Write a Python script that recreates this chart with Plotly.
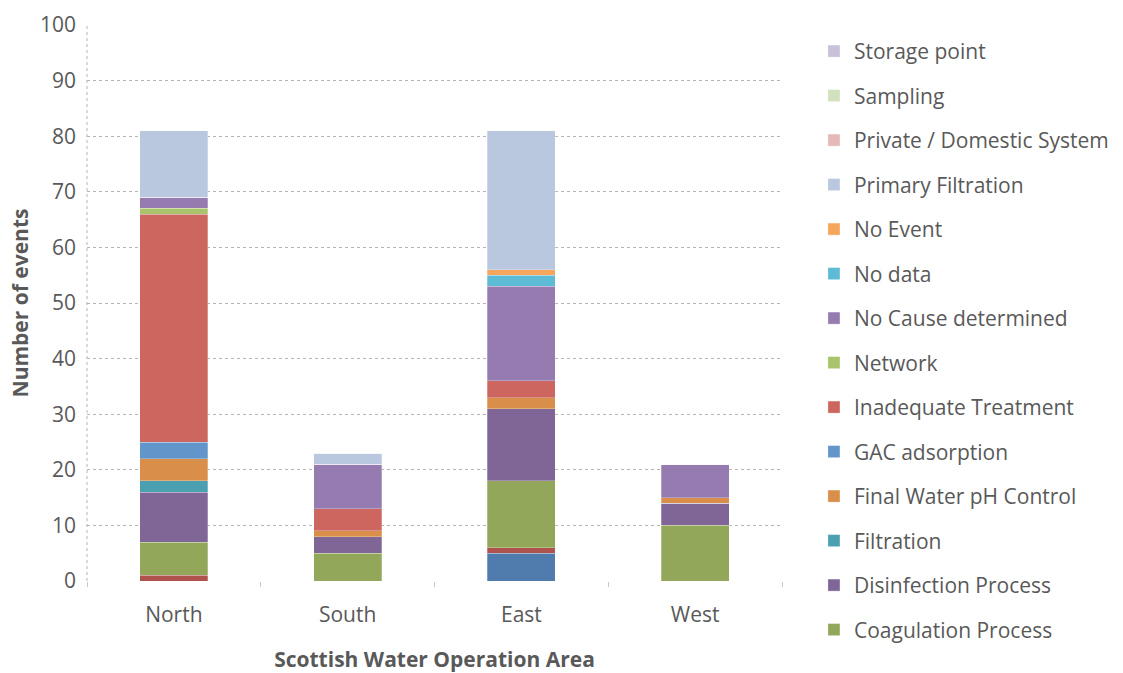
import plotly.graph_objects as go

areas = ["North", "South", "East", "West"]

# series, bottom of stack to top
unlisted_blue = [0, 0, 5, 0]
unlisted_red = [1, 0, 1, 0]
coagulation = [6, 5, 12, 10]
disinfection = [9, 3, 13, 4]
filtration = [2, 0, 0, 0]
final_ph = [4, 1, 2, 1]
gac = [3, 0, 0, 0]
inadequate = [41, 4, 3, 0]
network = [1, 0, 0, 0]
no_cause = [2, 8, 17, 6]
no_data = [0, 0, 2, 0]
no_event = [0, 0, 1, 0]
primary_filtration = [12, 2, 25, 0]
private_domestic = [0, 0, 0, 0]
sampling = [0, 0, 0, 0]
storage_point = [0, 0, 0, 0]

series = [
    ("Other (unlisted 1)", unlisted_blue, "#4f7cad", False),
    ("Other (unlisted 2)", unlisted_red, "#b0524e", False),
    ("Coagulation Process", coagulation, "#93a75a", True),
    ("Disinfection Process", disinfection, "#7f6697", True),
    ("Filtration", filtration, "#4a9fb1", True),
    ("Final Water pH Control", final_ph, "#d98f4a", True),
    ("GAC adsorption", gac, "#6295c9", True),
    ("Inadequate Treatment", inadequate, "#cd665f", True),
    ("Network", network, "#a9c46b", True),
    ("No Cause determined", no_cause, "#967bb0", True),
    ("No data", no_data, "#5dbbd5", True),
    ("No Event", no_event, "#f6a55d", True),
    ("Primary Filtration", primary_filtration, "#b9c8df", True),
    ("Private / Domestic System", private_domestic, "#e5b9b8", True),
    ("Sampling", sampling, "#d2e1bd", True),
    ("Storage point", storage_point, "#c9c1da", True),
]

FONT = "Open Sans"
GREY = "#595959"
FS = 21

fig = go.Figure()
for i, (name, vals, col, show) in enumerate(series):
    fig.add_trace(go.Bar(
        x=areas, y=vals, name=name, showlegend=show, legendgroup=name,
        legendrank=1000 - i,
        marker=dict(color=col, line=dict(color="rgba(255,255,255,0.45)", width=0.6)),
        width=0.39,
    ))

fig.update_layout(
    barmode="stack",
    width=1123, height=673,
    margin=dict(l=87, r=341, t=25, b=92),
    paper_bgcolor="white", plot_bgcolor="white",
    font=dict(family=FONT, color=GREY, size=FS),
    legend=dict(
        traceorder="grouped", tracegroupgap=14.2,
        xref="container", yref="container",
        x=0.7248, xanchor="left", y=0.954, yanchor="top",
        maxheight=673,
        font=dict(size=FS, color=GREY), bgcolor="rgba(0,0,0,0)",
    ),
    xaxis=dict(
        automargin=False,
        showgrid=False, ticks="outside", tickson="boundaries", ticklen=5,
        tickcolor="#c8c8c8", showline=False, zeroline=False,
        tickfont=dict(size=FS, color=GREY), ticklabelstandoff=19,
        title=dict(text="<b>Scottish Water Operation Area</b>", standoff=25,
                   font=dict(size=FS, color=GREY)),
    ),
    yaxis=dict(
        automargin=False,
        range=[0, 100], dtick=10, showgrid=True, gridcolor="#b5b5b5",
        griddash="dot", gridwidth=1, zeroline=False, showline=False,
        ticks="", tickfont=dict(size=FS, color=GREY), ticklabelstandoff=10,
        title=dict(text="<b>Number of events</b>", standoff=5,
                   font=dict(size=FS, color=GREY)),
    ),
)

fig.add_shape(type="line", xref="paper", yref="y", x0=0, x1=0, y0=0, y1=100,
              line=dict(color="#b5b5b5", width=1, dash="dot"), layer="below")

fig.write_html("out.html")
